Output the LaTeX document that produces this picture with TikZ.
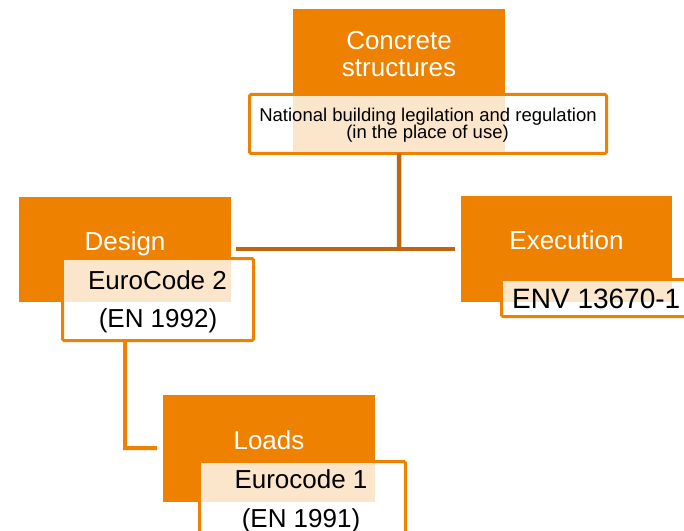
\documentclass[tikz,border=0pt]{standalone}
\usepackage{fontspec}
\setmainfont{Liberation Sans}
\definecolor{orng}{RGB}{238,129,0}
\definecolor{brn}{RGB}{192,102,14}
\definecolor{stip}{RGB}{251,230,203}
\begin{document}
\begin{tikzpicture}[x=1bp,y=-1bp,
  obox/.style={fill=orng, draw=none, inner sep=0, outer sep=0, anchor=north west},
  wbox/.style={fill=white, draw=orng, line width=3bp, rounded corners=1.5bp, inner sep=0, outer sep=0, anchor=north west},
  head/.style={text=white, font=\fontsize{26bp}{27bp}\selectfont, inner sep=0, anchor=base},
  code/.style={text=black, font=\fontsize{26bp}{27bp}\selectfont, inner sep=0, anchor=base},
  small/.style={text=black, font=\fontsize{18.5bp}{19bp}\selectfont, inner sep=0, anchor=base},
  link/.style={draw=brn, line width=4.5bp},
  sublink/.style={draw=orng, line width=4bp}]
\useasboundingbox (0,0) rectangle (684,531);
\clip (0,0) rectangle (684,531);
% orange boxes
\node[obox, minimum width=212bp, minimum height=95bp] (cs) at (293,9) {};
\node[obox, minimum width=212bp, minimum height=105bp] (design) at (19,197) {};
\node[obox, minimum width=211bp, minimum height=106bp] (exec) at (461,196) {};
\node[obox, minimum width=212bp, minimum height=107bp] (loads) at (163,395) {};
% white boxes
\node[wbox, minimum width=357bp, minimum height=59bp] (nat) at (249.5,94.5) {};
\node[wbox, minimum width=191bp, minimum height=82bp] (ec2) at (62.5,258.5) {};
\node[wbox, minimum width=200bp, minimum height=37bp] (env) at (501.5,279.5) {};
\node[wbox, minimum width=206bp, minimum height=100bp] (ec1) at (199.5,461.5) {};
% overlap tint
\fill[stip] (293,96) rectangle (505,152);
\fill[stip] (64,260) rectangle (231,302);
\fill[stip] (503,281) rectangle (672,302);
\fill[stip] (201,463) rectangle (375,502);
% connectors
\coordinate (j) at (399,249);
\coordinate (bend) at (125,448);
\draw[link] (cs.center |- nat.south) -- (j);
\draw[link] ([xshift=5bp]design.east |- j) -- ([xshift=-6bp]exec.west |- j);
\draw[sublink] (design.center |- ec2.south) -- (bend) -- ([xshift=-6bp]loads.west |- bend);
% texts
\node[head] (t1) at (399,50) {Concrete};
\node[head] (t2) at (399,77) {structures};
\node[small] (t3) at (428,122) {National building legilation and regulation};
\node[small] (t4) at (427.5,139) {(in the place of use)};
\node[head] (t5) at (125,251) {Design};
\node[code] (t6) at (157.5,289) {EuroCode 2};
\node[code] (t7) at (158,327) {(EN 1992)};
\node[head] (t8) at (566.5,250) {Execution};
\node[code, font=\fontsize{28bp}{29bp}\selectfont, anchor=base west] (t9) at (512,308) {ENV 13670-1};
\node[head] (t10) at (269,449) {Loads};
\node[code] (t11) at (301,488) {Eurocode 1};
\node[code] (t12) at (301,527) {(EN 1991)};
\end{tikzpicture}
\end{document}
